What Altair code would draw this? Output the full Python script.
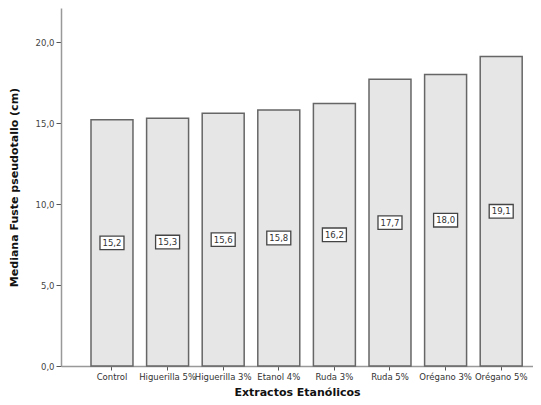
import altair as alt
import pandas as pd

categories = ["Control", "Higuerilla 5%", "Higuerilla 3%", "Etanol 4%", "Ruda 3%", "Ruda 5%", "Orégano 3%", "Orégano 5%"]
values = [15.2, 15.3, 15.6, 15.8, 16.2, 17.7, 18.0, 19.1]
labels = ["15,2", "15,3", "15,6", "15,8", "16,2", "17,7", "18,0", "19,1"]

df = pd.DataFrame({"cat": categories, "val": values, "lab": labels})

FONT = "DejaVu Sans"

x = alt.X("cat:N", sort=categories,
          scale=alt.Scale(paddingInner=0.245, paddingOuter=0.367, align=0.735),
          axis=alt.Axis(title="Extractos Etanólicos", labelAngle=0, labelOverlap=False,
                        labelLimit=0, labelFontSize=8.5, labelColor="#333333", labelFont=FONT,
                        titleFont=FONT, titleFontSize=11, titleFontWeight="bold", titleColor="#111111",
                        titlePadding=6, tickSize=4, tickColor="#555555", domainColor="#999999",
                        domainWidth=1.5, labelPadding=2))

y = alt.Y("val:Q", scale=alt.Scale(domain=[0, 22.1], nice=False),
          axis=alt.Axis(title="Mediana Fuste pseudotallo (cm)", values=[0, 5, 10, 15, 20],
                        labelExpr="replace(format(datum.value, '.1f'), '.', ',')",
                        grid=False, labelFontSize=8.5, labelColor="#444444", labelFont=FONT,
                        titleFont=FONT, titleFontSize=11, titleFontWeight="bold", titleColor="#111111",
                        titlePadding=16, tickSize=5, tickColor="#555555", domainColor="#999999",
                        domainWidth=1.5))

bars = alt.Chart(df).mark_bar(fill="#e6e6e6", stroke="#666666", strokeWidth=1.5).encode(x=x, y=y)

boxes = alt.Chart(df).transform_calculate(
    y1="datum.val / 2 - 0.42", y2="datum.val / 2 + 0.42"
).mark_bar(width=24, fill="white", stroke="#444444", strokeWidth=1.3).encode(
    x=alt.X("cat:N", sort=categories), y="y1:Q", y2="y2:Q")

texts = alt.Chart(df).transform_calculate(
    ym="datum.val / 2"
).mark_text(font=FONT, fontSize=8.5, color="#333333", baseline="middle").encode(
    x=alt.X("cat:N", sort=categories), y="ym:Q", text="lab:N")

chart = alt.layer(bars, boxes, texts).properties(
    width=472, height=358, padding={"left": 0, "top": 0, "right": 0, "bottom": 0}
).configure(background="white").configure_view(stroke=None)

chart.save("out.html", embed_options={"renderer": "svg", "actions": False})
